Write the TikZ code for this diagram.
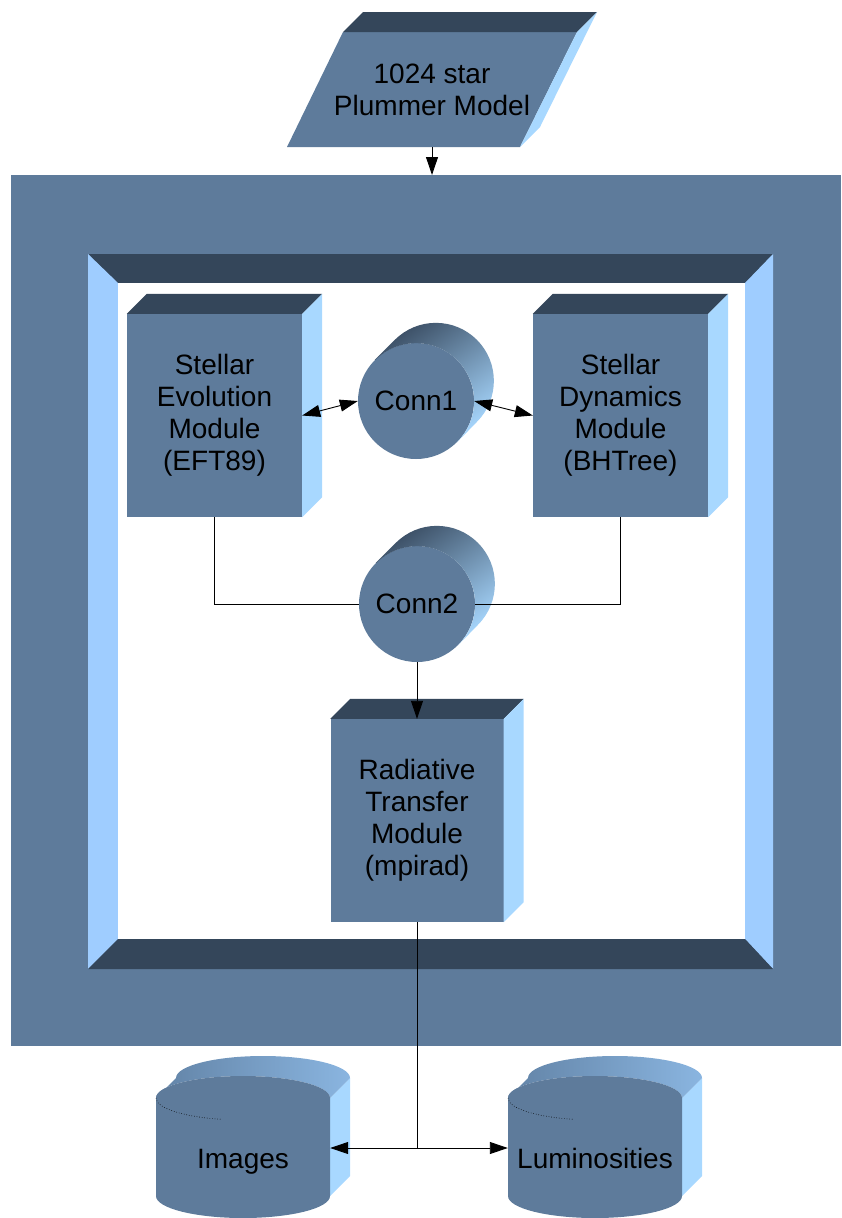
\documentclass[tikz,border=0pt]{standalone}
\usepackage{fontspec}
\setmainfont{Liberation Sans}
\usetikzlibrary{arrows.meta,calc}
\definecolor{mainc}{HTML}{5E7B9B}
\definecolor{darkc}{HTML}{34465A}
\definecolor{lightc}{HTML}{A8D8FF}
\definecolor{bandc}{HTML}{9FCDFF}
\definecolor{midc}{HTML}{6E93BA}
\definecolor{darkg}{HTML}{3A4D63}
\definecolor{cylL}{HTML}{6283A6}
\definecolor{cylR}{HTML}{8AB5E0}
\begin{document}
\begin{tikzpicture}[x=1pt,y=1pt,
  txt/.style={font=\fontsize{28}{32}\selectfont, text=black, align=center},
  modbox/.style={txt, rectangle, fill=mainc, inner sep=0pt, minimum width=175pt, minimum height=203pt},
  disc/.style={txt, circle, fill=mainc, inner sep=0pt, minimum size=116pt},
  cyltext/.style={font=\fontsize{28}{32}\selectfont, text=black, minimum width=174pt, text height=46pt, text depth=6pt, inner sep=0pt, anchor=base},
  conn/.style={line width=0.9pt, black},
  tip/.style={-{Triangle[length=18pt,width=12pt]}},
  tips/.style={{Triangle[length=18pt,width=12pt]}-{Triangle[length=18pt,width=12pt]}}
]
\useasboundingbox (0,0) rectangle (841,-1218);

% outer frame
\node[fill=mainc, draw=none, inner sep=0pt, outer sep=0pt, minimum width=830pt, minimum height=871pt] (frame) at (426,-610.5) {};
% inner bevel
\fill[darkc] (88,-254) -- (773,-254) -- (745,-283) -- (118,-283) -- cycle;
\fill[bandc] (88,-254) -- (118,-283) -- (118,-939) -- (88,-969) -- cycle;
\fill[bandc] (773,-254) -- (773,-969) -- (745,-939) -- (745,-283) -- cycle;
\fill[darkc] (118,-939) -- (745,-939) -- (773,-969) -- (88,-969) -- cycle;
\fill[white] (118,-283) rectangle (745,-939);

% modules
\node[modbox] (se) at (214.5,-415.5) {Stellar\\Evolution\\Module\\(EFT89)};
\node[modbox] (sd) at (620.5,-415.5) {Stellar\\Dynamics\\Module\\(BHTree)};
\node[modbox, minimum width=173pt] (rt) at (417,-820.5) {Radiative\\Transfer\\Module\\(mpirad)};
\foreach \b in {se,sd,rt}{
  \fill[darkc] (\b.north west) -- ++(20,20) -- ($(\b.north east)+(20,20)$) -- (\b.north east) -- cycle;
  \fill[lightc] (\b.north east) -- ++(20,20) -- ($(\b.south east)+(20,20)$) -- (\b.south east) -- cycle;
}

% connector discs
\node[disc] (c1) at (416,-401) {Conn1};
\node[disc] (c2) at (417,-604) {Conn2};
\foreach \c in {c1,c2}{
  \shade[top color=darkg, middle color=midc, bottom color=lightc, shading angle=35]
    (\c.135) -- ++(20,20) arc[start angle=135, end angle=-45, radius=58]
    -- (\c.-45) arc[start angle=-45, end angle=135, radius=58] -- cycle;
}

% top parallelogram
\fill[mainc] (287,-147) -- (520,-147) -- (577,-32) -- (343,-32) -- cycle;
\fill[darkc] (343,-32) -- (363,-12) -- (597,-12) -- (577,-32) -- cycle;
\fill[lightc] (577,-32) -- (597,-12) -- (540,-127) -- (520,-147) -- cycle;
\node[txt, minimum height=115pt, minimum width=200pt, inner sep=0pt] (pm) at (432,-89.5) {1024 star\\Plummer Model};

% bottom cylinders
\foreach \dx in {0,352}{
  \begin{scope}[xshift=\dx pt]
    \fill[lightc] (330,-1098) -- (350,-1078) -- (350,-1176) -- (330,-1196) -- cycle;
    \shade[left color=cylL, middle color=darkg, right color=cylR]
      (156,-1098) -- (176,-1078) arc[start angle=180, end angle=0, x radius=87, y radius=22]
      -- (330,-1098) arc[start angle=0, end angle=180, x radius=87, y radius=22] -- cycle;
    \fill[mainc] (156,-1098) -- (156,-1196) arc[start angle=180, end angle=360, x radius=87, y radius=22]
      -- (330,-1098) arc[start angle=0, end angle=180, x radius=87, y radius=22] -- cycle;
    \draw[dotted, line width=0.6pt] (156,-1098) arc[start angle=180, end angle=255, x radius=87, y radius=22];
  \end{scope}
}
\node[cyltext] (img) at (243,-1168) {Images};
\node[cyltext] (lum) at (595,-1168) {Luminosities};

% connectors
\draw[conn,tip] (pm.south) -- (pm.south |- frame.north);
\draw[conn,tips] (se.east) -- (c1.west);
\draw[conn,tips] (c1.east) -- (sd.west);
\draw[conn] (se.south) |- (c2.west);
\draw[conn] (sd.south) |- (c2.east);
\draw[conn,tip] (c2.south) -- (rt.north);
\coordinate (jn) at (rt.south |- img.east);
\draw[conn] (rt.south) -- (jn);
\draw[conn,tip] (jn) -- (img.east);
\draw[conn,tip] (jn) -- (lum.west);
\end{tikzpicture}
\end{document}
